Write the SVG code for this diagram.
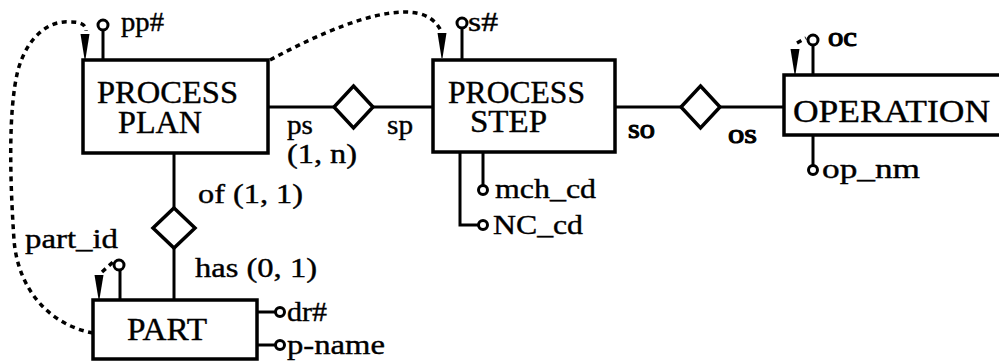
<svg xmlns="http://www.w3.org/2000/svg" width="999" height="362" viewBox="0 0 999 362">
<style>
  .box{fill:#fff;stroke:#000;stroke-width:3.5}
  .ln{fill:none;stroke:#000;stroke-width:3}
  .dia{fill:#fff;stroke:#000;stroke-width:3.5;stroke-linejoin:miter}
  .dash{fill:none;stroke:#000;stroke-width:3.5;stroke-dasharray:5 4.5}
  .att{fill:#fff;stroke:#000;stroke-width:3}
  .ah{fill:#000}
  .t{font-family:"Liberation Serif","Times New Roman",serif;fill:#000;stroke:#000;stroke-width:0.4}
  .big{font-size:32px}
  .lab{font-size:28px}
  .b{stroke-width:1.1}
</style>
<rect width="999" height="362" fill="#fff"/>
<g id="connectors">
  <line class="ln" x1="268" y1="107" x2="334" y2="107"/>
  <line class="ln" x1="373" y1="107" x2="433" y2="107"/>
  <line class="ln" x1="615" y1="107" x2="681" y2="107"/>
  <line class="ln" x1="720" y1="107" x2="784" y2="107"/>
  <line class="ln" x1="174" y1="153" x2="174" y2="208"/>
  <line class="ln" x1="174" y1="248" x2="174" y2="300"/>
  <path class="dash" d="M93,333 C50,325 18,290 14,240 C10,180 8,110 18,70 C28,35 50,20 70,22 C80,22 86,24 86,31"/>
  <path class="dash" d="M270,60 C320,33 370,12 405,12 C425,12 436,20 441,31"/>
  <path class="dash" d="M797,43 L806,38"/>
  <path class="dash" d="M102,272 L113,262"/>
  <polygon class="ah" points="80.5,34 89.5,34 85.5,59 84.5,59"/>
  <polygon class="ah" points="437.5,33 446.5,33 442.5,58 441.5,58"/>
  <polygon class="ah" points="790.5,49 799.5,49 795.5,74 794.5,74"/>
  <polygon class="ah" points="94.5,275 103.5,275 99.5,299 98.5,299"/>
</g>
<g id="rel-ps">
  <polygon class="dia" points="353.5,86 373,107 353.5,128 334,107"/>
  <text class="t lab" x="287" y="134" textLength="26" lengthAdjust="spacingAndGlyphs">ps</text>
  <text class="t lab" x="287" y="163" textLength="70" lengthAdjust="spacingAndGlyphs">(1, n)</text>
  <text class="t lab" x="387" y="134" textLength="26" lengthAdjust="spacingAndGlyphs">sp</text>
</g>
<g id="rel-so">
  <polygon class="dia" points="700.5,86 720,107 700.5,128 681,107"/>
  <text class="t lab b" x="628" y="138" textLength="27" lengthAdjust="spacingAndGlyphs">so</text>
  <text class="t lab b" x="728" y="143" textLength="29" lengthAdjust="spacingAndGlyphs">os</text>
</g>
<g id="rel-of">
  <polygon class="dia" points="174,208 195,228 174,248 153,228"/>
  <text class="t lab" x="198" y="203" textLength="105" lengthAdjust="spacingAndGlyphs">of (1, 1)</text>
  <text class="t lab" x="195" y="277" textLength="122" lengthAdjust="spacingAndGlyphs">has (0, 1)</text>
</g>
<g id="process-plan">
  <line class="ln" x1="103" y1="30" x2="103" y2="60"/>
  <circle class="att" cx="103" cy="25" r="5"/>
  <text class="t lab" x="121" y="31" textLength="43" lengthAdjust="spacingAndGlyphs">pp#</text>
  <rect class="box" x="83" y="60" width="185" height="93"/>
  <text class="t big" x="97" y="103" textLength="141" lengthAdjust="spacingAndGlyphs">PROCESS</text>
  <text class="t big" x="118" y="133" textLength="84" lengthAdjust="spacingAndGlyphs">PLAN</text>
</g>
<g id="process-step">
  <line class="ln" x1="462" y1="28" x2="462" y2="60"/>
  <circle class="att" cx="462" cy="23" r="5"/>
  <text class="t lab" x="468" y="31" textLength="30" lengthAdjust="spacingAndGlyphs">s#</text>
  <path class="ln" d="M483,152 V185"/>
  <circle class="att" cx="483" cy="190" r="4.5"/>
  <text class="t lab" x="495" y="198" textLength="101" lengthAdjust="spacingAndGlyphs">mch_cd</text>
  <path class="ln" d="M460,152 V225 H478"/>
  <circle class="att" cx="483" cy="225" r="4.5"/>
  <text class="t lab" x="493" y="234" textLength="90" lengthAdjust="spacingAndGlyphs">NC_cd</text>
  <rect class="box" x="433" y="60" width="182" height="92"/>
  <text class="t big" x="448" y="103" textLength="137" lengthAdjust="spacingAndGlyphs">PROCESS</text>
  <text class="t big" x="470" y="132" textLength="77" lengthAdjust="spacingAndGlyphs">STEP</text>
</g>
<g id="operation">
  <line class="ln" x1="813" y1="45" x2="813" y2="75"/>
  <circle class="att" cx="813" cy="40" r="5"/>
  <text class="t lab b" x="828" y="46" textLength="29" lengthAdjust="spacingAndGlyphs">oc</text>
  <line class="ln" x1="813" y1="135" x2="813" y2="165"/>
  <circle class="att" cx="813" cy="170" r="4.5"/>
  <text class="t lab" x="822" y="178" textLength="98" lengthAdjust="spacingAndGlyphs">op_nm</text>
  <rect class="box" x="784" y="75" width="240" height="60"/>
  <text class="t big" x="793" y="122" textLength="197" lengthAdjust="spacingAndGlyphs">OPERATION</text>
</g>
<g id="part">
  <line class="ln" x1="120" y1="270" x2="120" y2="300"/>
  <circle class="att" cx="119" cy="265" r="5"/>
  <text class="t lab" x="25" y="248" textLength="93" lengthAdjust="spacingAndGlyphs">part_id</text>
  <line class="ln" x1="257" y1="312" x2="276" y2="312"/>
  <circle class="att" cx="280" cy="312" r="4.5"/>
  <text class="t lab" x="287" y="321" textLength="40" lengthAdjust="spacingAndGlyphs">dr#</text>
  <line class="ln" x1="257" y1="345" x2="276" y2="345"/>
  <circle class="att" cx="280" cy="345" r="4.5"/>
  <text class="t lab" x="287" y="354" textLength="98" lengthAdjust="spacingAndGlyphs">p-name</text>
  <rect class="box" x="93" y="300" width="164" height="59"/>
  <text class="t big" x="127" y="340" textLength="80" lengthAdjust="spacingAndGlyphs">PART</text>
</g>
</svg>
